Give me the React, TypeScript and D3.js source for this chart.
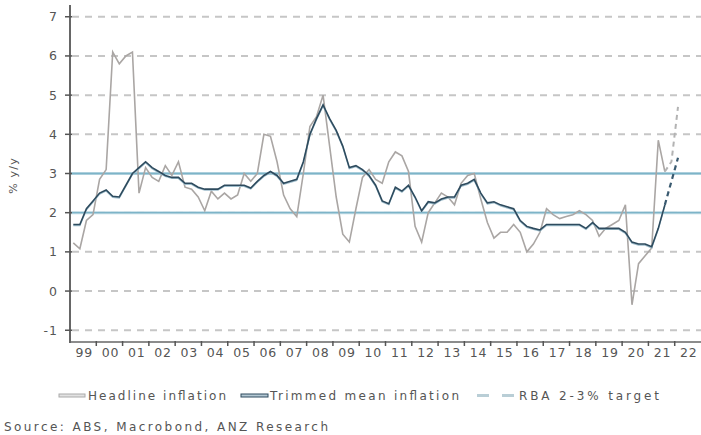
import React from 'react';
import * as d3 from 'd3';

const W = 701;
const H = 435;

// quarterly data, first point = 1999 Q1
const firstYear = 1999;
const yearLabels = d3.range(1999, 2023);
const yTicks = [-1, 0, 1, 2, 3, 4, 5, 6, 7];
const rbaTarget = [2, 3];

const headline = [
  1.23, 1.08, 1.8, 1.95,
  2.85, 3.1, 6.1, 5.8,
  6.0, 6.1, 2.5, 3.15,
  2.9, 2.8, 3.2, 2.95,
  3.3, 2.65, 2.6, 2.4,
  2.05, 2.55, 2.35, 2.5,
  2.35, 2.45, 3.0, 2.8,
  3.0, 4.0, 3.95, 3.3,
  2.45, 2.1, 1.9, 3.0,
  4.2, 4.45, 5.0, 3.7,
  2.4, 1.45, 1.25, 2.1,
  2.9, 3.1, 2.85, 2.75,
  3.3, 3.55, 3.45, 3.05,
  1.65, 1.25, 2.0, 2.25,
  2.5, 2.4, 2.2, 2.75,
  2.95, 3.0, 2.35, 1.75,
  1.35, 1.5, 1.5, 1.7,
  1.5, 1.0, 1.2, 1.5,
  2.1, 1.95, 1.85, 1.9,
  1.95, 2.05, 1.95, 1.8,
  1.4, 1.6, 1.7, 1.8,
  2.2, -0.35, 0.7, 0.9,
  1.1, 3.85, 3.05,
];

const trimmedMean = [
  1.7, 1.7, 2.1, 2.3,
  2.5, 2.58, 2.42, 2.4,
  2.7, 3.0, 3.15, 3.3,
  3.15, 3.05, 2.95, 2.9,
  2.9, 2.75, 2.75, 2.65,
  2.6, 2.6, 2.6, 2.7,
  2.7, 2.7, 2.7, 2.63,
  2.8, 2.95, 3.05, 2.95,
  2.75, 2.8, 2.85, 3.3,
  4.0, 4.4, 4.75, 4.4,
  4.1, 3.7, 3.15, 3.2,
  3.1, 2.95, 2.7, 2.3,
  2.23, 2.65, 2.55, 2.7,
  2.4, 2.05, 2.28, 2.25,
  2.35, 2.4, 2.4, 2.7,
  2.75, 2.85, 2.5, 2.25,
  2.28, 2.2, 2.15, 2.1,
  1.8, 1.65, 1.6, 1.56,
  1.7, 1.7, 1.7, 1.7,
  1.7, 1.7, 1.6, 1.75,
  1.6, 1.6, 1.6, 1.6,
  1.5, 1.25, 1.2, 1.2,
  1.13, 1.6, 2.2,
];

// forecasts: last actual (2021 Q3), 2021 Q4, 2022 Q1
const forecastStart = headline.length - 1;
const headlineForecast = [3.05, 3.3, 4.7];
const trimmedForecast = [2.2, 2.8, 3.4];

const legendItems = ['Headline inflation', 'Trimmed mean inflation', 'RBA 2-3% target'];
const sourceNote = 'Source: ABS, Macrobond, ANZ Research';

const font = 'DejaVu Sans';
const textCol = '#555';

export default function App() {
  const x = d3.scaleLinear().domain([1999, 2023]).range([70, 701]);
  const y = d3.scaleLinear().domain([-1.3, 7.3]).range([342, 5]);
  const qx = (i: number) => x(firstYear + (i + 0.5) / 4);

  const line = d3.line<number>().x((d, i) => qx(i)).y(d => y(d));
  const fline = d3.line<number>().x((d, i) => qx(forecastStart + i)).y(d => y(d));

  return (
    <svg width={W} height={H} style={{ position: 'absolute', left: 0, top: 0, background: '#fff' }}
      fontFamily={font}>
      {/* grid */}
      {yTicks.map(t => (
        <line key={'g' + t} x1={72} x2={701} y1={y(t)} y2={y(t)}
          stroke="#c6c6c6" strokeWidth={2} strokeDasharray="7,6" />
      ))}
      {/* RBA band */}
      {rbaTarget.map(t => (
        <g key={'r' + t}>
          <line x1={70} x2={701} y1={y(t)} y2={y(t)} stroke="#bcd9e3" strokeWidth={3} />
          <line x1={70} x2={701} y1={y(t)} y2={y(t)} stroke="#7db4c8" strokeWidth={1.3} />
        </g>
      ))}
      {/* series */}
      <path d={line(headline) || ''} fill="none" stroke="#aaa6a4" strokeWidth={1.6} />
      <path d={fline(headlineForecast) || ''} fill="none" stroke="#b3b3b3" strokeWidth={2}
        strokeDasharray="5,4" />
      <path d={line(trimmedMean) || ''} fill="none" stroke="#9dbccb" strokeWidth={1.4}
        transform="translate(0,1)" />
      <path d={line(trimmedMean) || ''} fill="none" stroke="#2e4b5e" strokeWidth={1.6} />
      <path d={fline(trimmedForecast) || ''} fill="none" stroke="#3a5a70" strokeWidth={2.2}
        strokeDasharray="5,4" />

      {/* y axis */}
      <line x1={70} x2={70} y1={5} y2={343} stroke="#666" strokeWidth={2} />
      {yTicks.map(t => (
        <g key={'yt' + t}>
          <line x1={65} x2={72} y1={y(t)} y2={y(t)} stroke="#555" strokeWidth={1.5} />
          <text x={58} y={y(t)} dy="0.36em" textAnchor="end" fontSize={12.5} fill={textCol}
            letterSpacing={1}>{t}</text>
        </g>
      ))}
      <text transform={`translate(17,${y(2.95)}) rotate(-90)`} textAnchor="middle" fontSize={11}
        fill={textCol} letterSpacing={1.2}>% y/y</text>

      {/* x axis */}
      <line x1={69} x2={701} y1={342} y2={342} stroke="#666" strokeWidth={1.5} />
      {yearLabels.map(yr => (
        <g key={'xt' + yr}>
          {yr > 1999 && <line x1={x(yr)} x2={x(yr)} y1={341} y2={346} stroke="#555" strokeWidth={1.5} />}
          <text x={x(yr + 0.5) + 1} y={357} textAnchor="middle" fontSize={12.5} fill={textCol}
            letterSpacing={0.8}>{String(yr % 100).padStart(2, '0')}</text>
        </g>
      ))}

      {/* legend */}
      <g fontSize={12} fill={textCol}>
        <rect x={59} y={394} width={26} height={3} fill="#e2e2e2" stroke="#aaa" strokeWidth={1} />
        <text x={88} y={400} textLength={138} lengthAdjust="spacing">{legendItems[0]}</text>
        <rect x={241} y={394} width={27} height={3} fill="#b4c8d3" stroke="#2e4b5e" strokeWidth={1} />
        <text x={270} y={400} textLength={189} lengthAdjust="spacing">{legendItems[1]}</text>
        <line x1={477} x2={514} y1={395.5} y2={395.5} stroke="#b9ced6" strokeWidth={3}
          strokeDasharray="12,13" />
        <text x={519} y={400} textLength={140} lengthAdjust="spacing">{legendItems[2]}</text>
        <text x={4} y={431} textLength={324} lengthAdjust="spacing">{sourceNote}</text>
      </g>
    </svg>
  );
}
